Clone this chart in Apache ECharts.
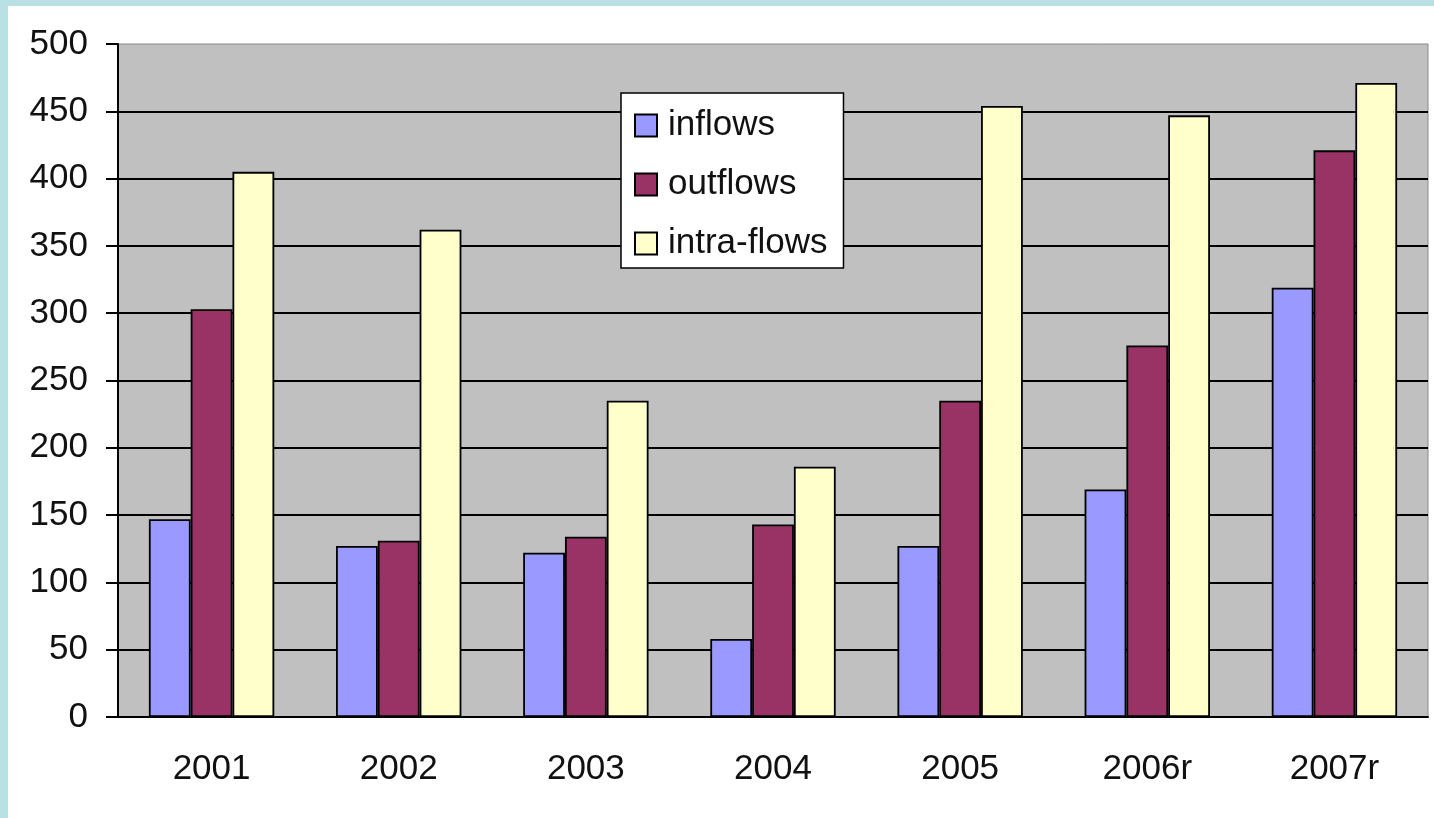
<!DOCTYPE html>
<html>
<head>
<meta charset="utf-8">
<script src="https://cdn.jsdelivr.net/npm/echarts@6/dist/echarts.min.js"></script>
<style>
html,body{margin:0;padding:0;background:#b9e0e3;}
#chart{position:absolute;left:8px;top:6px;width:1426px;height:812px;background:#fff;}
</style>
</head>
<body>
<div id="chart"></div>
<script>
const categories = ['2001','2002','2003','2004','2005','2006r','2007r'];
const inflows = [147, 127, 122, 58, 127, 169, 319];
const outflows = [303, 131, 134, 143, 235, 276, 421];
const intraFlows = [405, 362, 235, 186, 454, 447, 471];
const seriesNames = ['inflows','outflows','intra-flows'];

const chart = echarts.init(document.getElementById('chart'));
const font = 'Liberation Sans, Arial, sans-serif';
const barStyle = (c) => ({ color: c, borderColor: '#000', borderWidth: 1.8 });
chart.setOption({
  animation: false,
  textStyle: { fontFamily: font },
  grid: { left: 110, right: 6, top: 38, bottom: 101, show: true, backgroundColor: '#c0c0c0', borderColor: '#8a8a8a', borderWidth: 1 },
  legend: {
    orient: 'vertical', left: 613, top: 87,
    backgroundColor: '#fff', borderColor: '#000', borderWidth: 1.5,
    padding: [15, 16, 7, 13],
    itemWidth: 22, itemHeight: 22, itemGap: 24,
    icon: 'rect',
    textStyle: { fontSize: 35, color: '#111', fontFamily: font, lineHeight: 34, padding: [0, 0, 0, 6] },
    data: seriesNames
  },
  xAxis: {
    type: 'category', data: categories,
    axisLine: { lineStyle: { color: '#000', width: 2 } },
    axisTick: { length: 12, lineStyle: { color: '#000', width: 2 } },
    axisLabel: { fontSize: 35, color: '#111', margin: 35, fontFamily: font }
  },
  yAxis: {
    type: 'value', min: 0, max: 500, interval: 50,
    axisLine: { show: true, lineStyle: { color: '#000', width: 2 } },
    axisTick: { show: true, length: 12, lineStyle: { color: '#000', width: 2 } },
    axisLabel: { fontSize: 35, color: '#111', margin: 30, fontFamily: font },
    splitLine: { show: true, showMaxLine: false, lineStyle: { color: '#000', width: 2 } }
  },
  series: [
    { name: seriesNames[0], type: 'bar', data: inflows, itemStyle: barStyle('#9999ff'), barGap: '0%', barCategoryGap: '33%' },
    { name: seriesNames[1], type: 'bar', data: outflows, itemStyle: barStyle('#993366'), barGap: '0%', barCategoryGap: '33%' },
    { name: seriesNames[2], type: 'bar', data: intraFlows, itemStyle: barStyle('#ffffcc'), barGap: '0%', barCategoryGap: '33%' }
  ]
});
</script>
</body>
</html>
